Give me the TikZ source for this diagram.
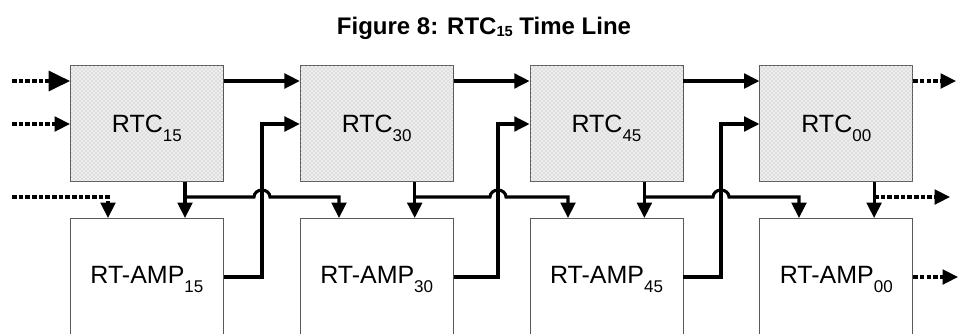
\documentclass[tikz,border=0pt]{standalone}
\usepackage{fontspec}
\setmainfont{Liberation Sans}
\usetikzlibrary{arrows.meta,patterns}
\newcommand\lowidx[1]{\raisebox{-6.5pt}{\fontsize{12.75}{13}\selectfont #1}}
\newcommand\tsub[1]{\raisebox{-1.5pt}{\fontsize{11}{11}\selectfont #1}}
\tikzset{
  title/.style={anchor=base, font=\bfseries\fontsize{18}{20}\selectfont},
  box/.style={draw=black!65, line width=0.6pt, minimum width=114.75pt,
    inner sep=0pt, anchor=north west, text depth=0pt,
    font=\fontsize{18.75}{20}\selectfont},
  rtcbox/.style={box, minimum height=87pt, text height=13.67pt, fill=black!7,
    postaction={pattern=crosshatch dots, pattern color=black!30}},
  ampbox/.style={box, minimum height=88.5pt, text height=9.2pt, fill=white},
  conn/.style={line width=2.3pt, -{Triangle[length=11.5pt,width=11pt]}},
  feed/.style={conn, dash pattern=on 3.4pt off 1.6pt},
  bigtip/.style={-{Triangle[length=16pt,width=15pt]}},
}
\begin{document}
\begin{tikzpicture}[x=0.75pt, y=-0.75pt]
  \useasboundingbox (0,0) rectangle (959,333);
  \node[title] (ttl) at (484,34) {Figure 8: RTC\tsub{15} Time Line};
  % two rows of boxes
  \foreach \n [count=\i from 0] in {15,30,45,00} {
    \node[rtcbox] (rtc\n) at (70+229.8*\i,65) {RTC\lowidx{\n}};
    \node[ampbox] (amp\n) at (70+229.8*\i,218) {RT-AMP\lowidx{\n}};
    \coordinate (tap\n) at (185+229.7*\i,197);
  }
  \coordinate (hi) at (0,81);
  \coordinate (lo) at (0,124);
  \coordinate (out) at (0,277);
  % RTC -> RTC
  \foreach \a/\b in {15/30,30/45,45/00}
    \draw[conn] (rtc\a.east |- hi) -- (rtc\b.west |- hi);
  % RT-AMP -> next RTC
  \foreach \a/\b/\x in {15/30/262,30/45/498,45/00/721}
    \draw[conn] (amp\a.east |- out) -| (\x,124) -- (rtc\b.west |- lo);
  % RTC -> RT-AMP
  \foreach \n in {15,30,45,00}
    \draw[conn] (rtc\n.south -| tap\n) -- (amp\n.north -| tap\n);
  % bus with hops
  \foreach \a/\b/\x/\d in {15/30/262/339,30/45/498/568,45/00/721/799}
    \draw[conn] (tap\a) -- (\x-8,197)
      arc[start angle=180, end angle=360, x radius=8, y radius=7]
      -| (amp\b.north -| \d,0);
  % incoming
  \coordinate (f1) at (12,81);
  \coordinate (f2) at (12,124);
  \coordinate (f3) at (12,197);
  \draw[feed, bigtip] (f1) -- (rtc15.west |- hi);
  \draw[feed] (f2) -- (rtc15.west |- lo);
  \draw[feed] (f3) -| (amp15.north -| 108,0);
  % outgoing
  \coordinate (g1) at (956,81);
  \coordinate (g2) at (950,197);
  \coordinate (g3) at (958,277);
  \draw[feed] (rtc00.east |- hi) -- (g1);
  \draw[feed] (tap00) -- (g2);
  \draw[feed] (amp00.east |- out) -- (g3);
\end{tikzpicture}
\end{document}
